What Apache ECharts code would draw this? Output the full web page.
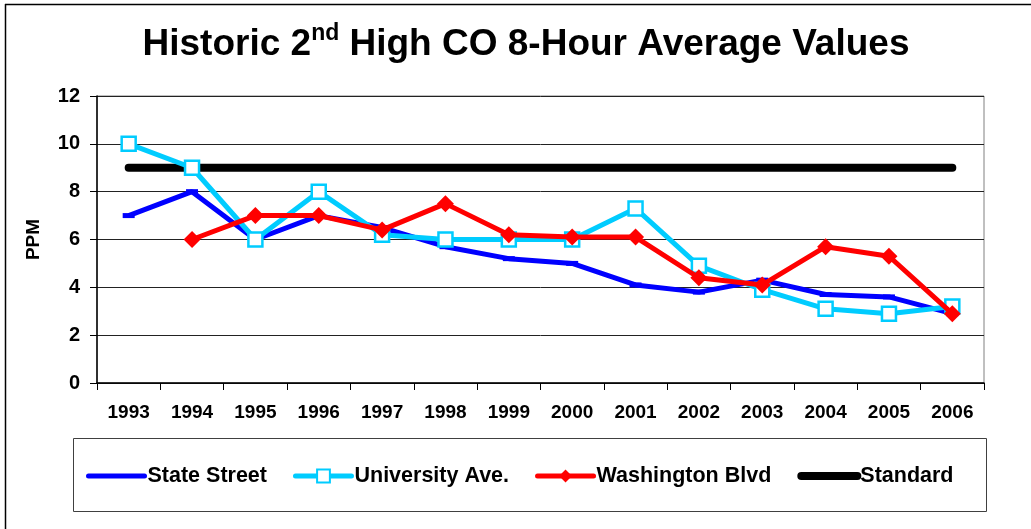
<!DOCTYPE html>
<html>
<head>
<meta charset="utf-8">
<title>Historic 2nd High CO 8-Hour Average Values</title>
<script src="https://cdn.jsdelivr.net/npm/echarts@6/dist/echarts.min.js"></script>
<style>
  html, body { margin: 0; padding: 0; background: #fff; }
  #myChart { width: 1031px; height: 529px; }
</style>
</head>
<body>
<div id="myChart"></div>
<script>
// data
var years = ['1993', '1994', '1995', '1996', '1997', '1998', '1999', '2000', '2001', '2002', '2003', '2004', '2005', '2006'];
var stateStreet = [7.0, 8.0, 6.0, 7.0, 6.5, 5.7, 5.2, 5.0, 4.1, 3.8, 4.3, 3.7, 3.6, 2.9];
var universityAve = [10.0, 9.0, 6.0, 8.0, 6.2, 6.0, 6.0, 6.0, 7.3, 4.9, 3.9, 3.1, 2.9, 3.2];
var washingtonBlvd = ['-', 6.0, 7.0, 7.0, 6.4, 7.5, 6.2, 6.1, 6.1, 4.4, 4.1, 5.7, 5.3, 2.9];
var standard = [9, 9, 9, 9, 9, 9, 9, 9, 9, 9, 9, 9, 9, 9];
var yTicks = [0, 2, 4, 6, 8, 10, 12];

var font = 'Liberation Sans, Arial, sans-serif';
var myChart = echarts.init(document.getElementById('myChart'));

var option = {
    animation: false,
    backgroundColor: '#fff',
    title: {
        left: 521,
        textAlign: 'center',
        top: 17,
        text: '{a|Historic 2}{b|nd}{a| High CO 8-Hour Average Values}',
        textStyle: {
            rich: {
                a: { fontFamily: font, fontWeight: 'bold', fontSize: 37, color: '#000', lineHeight: 46 },
                b: { fontFamily: font, fontWeight: 'bold', fontSize: 23, color: '#000', verticalAlign: 'top', lineHeight: 28 }
            }
        }
    },
    grid: {
        left: 97,
        right: 47,
        top: 96,
        bottom: 146,
        show: true,
        borderColor: '#808080',
        borderWidth: 1
    },
    legend: {
        left: 81,
        top: 460,
        itemWidth: 56,
        itemHeight: 16,
        itemGap: 26,
        textStyle: { fontFamily: font, fontWeight: 'bold', fontSize: 21.5, color: '#000', padding: [0, 0, 0, -2] },
        data: [
            { name: 'State Street', lineStyle: { width: 5, cap: 'round' }, itemStyle: { color: 'transparent', borderWidth: 0 } },
            { name: 'University Ave.', lineStyle: { width: 5, cap: 'round' }, itemStyle: { borderWidth: 2 } },
            { name: 'Washington Blvd', lineStyle: { width: 5, cap: 'round' } },
            { name: 'Standard', lineStyle: { width: 8, cap: 'round' }, itemStyle: { color: 'transparent', borderWidth: 0 } }
        ]
    },
    xAxis: {
        type: 'category',
        data: years,
        boundaryGap: true,
        axisLine: { lineStyle: { color: '#000', width: 1.5 } },
        axisTick: { show: true, length: 7, lineStyle: { color: '#000' } },
        axisLabel: { margin: 20, fontFamily: font, fontWeight: 'bold', fontSize: 19, color: '#000' }
    },
    yAxis: {
        type: 'value',
        min: yTicks[0],
        max: yTicks[yTicks.length - 1],
        interval: 2,
        name: 'PPM',
        nameLocation: 'middle',
        nameRotate: 90,
        nameGap: 54,
        nameTextStyle: { fontFamily: font, fontWeight: 'bold', fontSize: 19, color: '#000' },
        axisLine: { show: true, lineStyle: { color: '#000', width: 1.5 } },
        axisTick: { show: true, length: 7, lineStyle: { color: '#000' } },
        axisLabel: { margin: 17, fontFamily: font, fontWeight: 'bold', fontSize: 20, color: '#000' },
        splitLine: { lineStyle: { color: '#222', width: 1 } }
    },
    series: [
        {
            name: 'State Street',
            type: 'line',
            data: stateStreet,
            z: 3,
            color: '#0000FF',
            symbol: 'rect',
            symbolSize: [12, 5],
            showAllSymbol: true,
            lineStyle: { width: 5, color: '#0000FF' },
            itemStyle: { color: '#0000FF' }
        },
        {
            name: 'University Ave.',
            type: 'line',
            data: universityAve,
            z: 4,
            color: '#00CCFF',
            symbol: 'rect',
            symbolSize: 14,
            showAllSymbol: true,
            lineStyle: { width: 5, color: '#00CCFF' },
            itemStyle: { color: '#fff', borderColor: '#00CCFF', borderWidth: 2.5 }
        },
        {
            name: 'Washington Blvd',
            type: 'line',
            data: washingtonBlvd,
            z: 5,
            color: '#FF0000',
            symbol: 'diamond',
            symbolSize: 17,
            showAllSymbol: true,
            lineStyle: { width: 5, color: '#FF0000' },
            itemStyle: { color: '#FF0000' }
        },
        {
            name: 'Standard',
            type: 'line',
            data: standard,
            z: 2,
            color: '#000',
            symbol: 'none',
            lineStyle: { width: 8, color: '#000', cap: 'round' }
        }
    ],
    graphic: [
        { type: 'line', shape: { x1: 5, y1: 4.5, x2: 1031, y2: 4.5 }, style: { stroke: '#000', lineWidth: 1.5 } },
        { type: 'line', shape: { x1: 5.5, y1: 4, x2: 5.5, y2: 529 }, style: { stroke: '#000', lineWidth: 1.5 } },
        { type: 'rect', shape: { x: 73.5, y: 438.5, width: 913, height: 73 }, style: { fill: 'none', stroke: '#404040', lineWidth: 1 }, z: -1 }
    ]
};

window.onresize = myChart.resize;
myChart.setOption(option);
</script>
</body>
</html>
